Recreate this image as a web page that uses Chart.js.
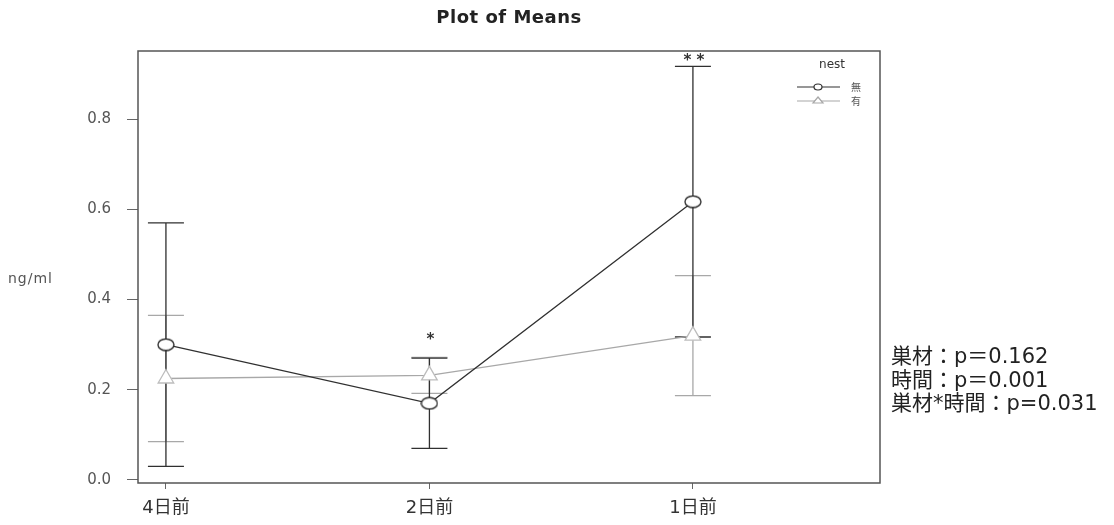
<!DOCTYPE html>
<html lang="ja">
<head>
<meta charset="UTF-8">
<title>Plot of Means</title>
<script src="https://cdn.jsdelivr.net/npm/chart.js@4.4.1/dist/chart.umd.min.js"></script>
<style>
  body { margin: 0; background: #fff; }
  canvas { display: block; }
</style>
</head>
<body>
<canvas id="grafico" width="1114" height="525"></canvas>
<script>
// datos
const categorias = ['4日前', '2日前', '1日前'];
const grupos = ['無', '有'];
const mediasNo = [0.300, 0.170, 0.617];
const errorNo = [0.270, 0.100, 0.300];
const mediasSi = [0.225, 0.232, 0.320];
const errorSi = [0.140, 0.040, 0.133];
const asteriscos = ['', '*', '* *'];
const yTicks = [0, 0.2, 0.4, 0.6, 0.8];
const estadisticas = ['巣材：p＝0.162', '時間：p＝0.001', '巣材*時間：p=0.031'];

const FUENTE = '"DejaVu Sans", "Noto Sans CJK JP", sans-serif';
const colorNo = '#303030';
const colorSi = '#a8a8a8';

const puntos = arr => arr.map((v, i) => ({ x: i + 1, y: v }));

// marcador elíptico (círculo abierto algo aplanado)
function crearElipse() {
  const c = document.createElement('canvas');
  c.width = 18; c.height = 14;
  const g = c.getContext('2d');
  g.fillStyle = '#fff';
  g.strokeStyle = colorNo;
  g.lineWidth = 1.4;
  g.beginPath();
  g.ellipse(9, 7, 8, 5.8, 0, 0, Math.PI * 2);
  g.fill(); g.stroke();
  return c;
}

// barras de error, asteriscos, leyenda y textos
const extras = {
  id: 'extras',
  beforeDatasetsDraw(chart) {
    const ctx = chart.ctx;
    const xs = chart.scales.x, ys = chart.scales.y;
    const dibujarBarras = (medias, errores, color) => {
      ctx.save();
      ctx.strokeStyle = color;
      ctx.lineWidth = 1.3;
      medias.forEach((m, i) => {
        const px = xs.getPixelForValue(i + 1);
        const top = ys.getPixelForValue(m + errores[i]);
        const bot = ys.getPixelForValue(m - errores[i]);
        ctx.beginPath();
        ctx.moveTo(px, top); ctx.lineTo(px, bot);
        ctx.moveTo(px - 18, top); ctx.lineTo(px + 18, top);
        ctx.moveTo(px - 18, bot); ctx.lineTo(px + 18, bot);
        ctx.stroke();
      });
      ctx.restore();
    };
    dibujarBarras(mediasSi, errorSi, colorSi);
    dibujarBarras(mediasNo, errorNo, colorNo);
  },
  afterDraw(chart) {
    const ctx = chart.ctx;
    const a = chart.chartArea;
    const xs = chart.scales.x, ys = chart.scales.y;
    ctx.save();
    // marco
    ctx.strokeStyle = '#555';
    ctx.lineWidth = 1.5;
    ctx.strokeRect(a.left, a.top, a.right - a.left, a.bottom - a.top);

    // título
    ctx.fillStyle = '#222';
    ctx.font = 'bold 18px ' + FUENTE;
    ctx.letterSpacing = '0.5px';
    ctx.textAlign = 'center';
    ctx.textBaseline = 'middle';
    ctx.fillText('Plot of Means', (a.left + a.right) / 2, 18);

    // etiqueta eje y
    ctx.font = '14px ' + FUENTE;
    ctx.letterSpacing = '1px';
    ctx.fillStyle = '#555';
    ctx.textAlign = 'left';
    ctx.fillText('ng/ml', 8, 279);
    ctx.letterSpacing = '0px';

    // asteriscos
    ctx.font = 'bold 15px ' + FUENTE;
    ctx.fillStyle = '#333';
    ctx.textAlign = 'center';
    ctx.textBaseline = 'bottom';
    asteriscos.forEach((s, i) => {
      if (!s) return;
      const top = Math.min(ys.getPixelForValue(mediasNo[i] + errorNo[i]), ys.getPixelForValue(mediasSi[i] + errorSi[i]));
      ctx.fillText(s, xs.getPixelForValue(i + 1) + 1, top - (s.length > 1 ? -2 : 10));
    });

    // leyenda
    ctx.font = '12px ' + FUENTE;
    ctx.fillStyle = '#333';
    ctx.textBaseline = 'middle';
    ctx.fillText('nest', 832, 65);
    const colores = [colorNo, colorSi];
    grupos.forEach((g, i) => {
      const y = 87 + i * 14;
      ctx.strokeStyle = colores[i];
      ctx.lineWidth = 1.2;
      ctx.beginPath(); ctx.moveTo(797, y); ctx.lineTo(840, y); ctx.stroke();
      ctx.fillStyle = '#fff';
      ctx.beginPath();
      if (i === 0) {
        ctx.ellipse(818, y, 4, 3, 0, 0, Math.PI * 2);
      } else {
        ctx.moveTo(818, y - 4); ctx.lineTo(823, y + 2); ctx.lineTo(813, y + 2); ctx.closePath();
      }
      ctx.fill(); ctx.stroke();
      ctx.fillStyle = '#555';
      ctx.font = '10px "Noto Sans CJK JP", sans-serif';
      ctx.textAlign = 'left';
      ctx.fillText(g, 851, y);
    });

    // estadísticas
    ctx.font = '21px "DejaVu Sans", "Noto Sans CJK JP", sans-serif';
    ctx.fillStyle = '#222';
    ctx.textAlign = 'left';
    ctx.textBaseline = 'middle';
    estadisticas.forEach((t, i) => ctx.fillText(t, 891, 358 + i * 23.5));
    ctx.restore();
  }
};

new Chart(document.getElementById('grafico').getContext('2d'), {
  type: 'line',
  data: {
    datasets: [
      {
        label: grupos[0],
        data: puntos(mediasNo),
        borderColor: colorNo,
        borderWidth: 1.3,
        pointStyle: crearElipse(),
        pointRadius: 8,
        tension: 0
      },
      {
        label: grupos[1],
        data: puntos(mediasSi),
        borderColor: colorSi,
        borderWidth: 1.3,
        pointStyle: 'triangle',
        pointRadius: 9,
        pointBorderWidth: 1.3,
        pointBackgroundColor: '#fff',
        pointBorderColor: '#bdbdbd',
        tension: 0
      }
    ]
  },
  options: {
    responsive: false,
    animation: false,
    layout: { padding: { left: 0, top: 51, right: 234, bottom: 0 } },
    plugins: {
      legend: { display: false },
      tooltip: { enabled: false }
    },
    scales: {
      x: {
        type: 'linear',
        min: 0.894,
        max: 3.71,
        afterFit: s => { s.height = 42; },
        afterBuildTicks: s => { s.ticks = [1, 2, 3].map(v => ({ value: v })); },
        grid: { display: true, drawOnChartArea: false, drawTicks: true, tickLength: 6, color: '#666' },
        border: { display: false },
        ticks: {
          padding: 9,
          color: '#333',
          font: { family: FUENTE, size: 18 },
          callback: v => categorias[v - 1]
        }
      },
      y: {
        min: -0.0067,
        max: 0.951,
        afterFit: s => { s.width = 138; },
        afterBuildTicks: s => { s.ticks = yTicks.map(v => ({ value: v })); },
        grid: { display: true, drawOnChartArea: false, drawTicks: true, tickLength: 11, color: '#666' },
        border: { display: false },
        ticks: {
          padding: 16,
          color: '#555',
          font: { family: FUENTE, size: 15 },
          callback: v => v.toFixed(1)
        }
      }
    }
  },
  plugins: [extras]
});
</script>
</body>
</html>
